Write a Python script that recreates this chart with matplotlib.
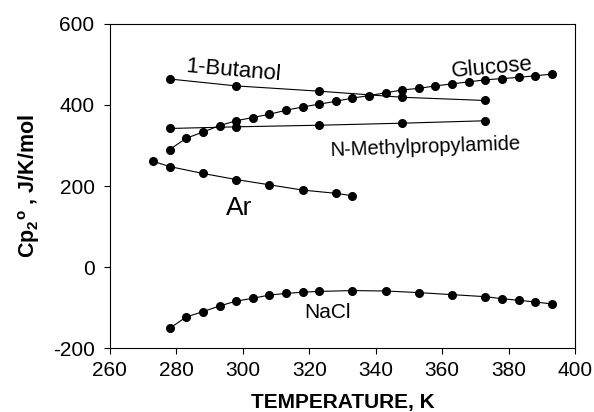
import matplotlib.pyplot as plt

plt.rcParams['font.family'] = 'Liberation Sans'
plt.rcParams['axes.unicode_minus'] = False
plt.rcParams['mathtext.fontset'] = 'custom'
plt.rcParams['mathtext.rm'] = 'Liberation Sans:bold'
plt.rcParams['mathtext.it'] = 'Liberation Sans:bold'
plt.rcParams['mathtext.bf'] = 'Liberation Sans:bold'
plt.rcParams['mathtext.default'] = 'rm'

# partial molar heat capacities, J/K/mol
t_butanol = [278, 298, 323, 348, 373]
cp_butanol = [464, 447, 434, 419, 411]

t_nmpa = [278, 298, 323, 348, 373]
cp_nmpa = [342, 346, 350, 355, 361]

t_glucose = [278, 283, 288, 293, 298, 303, 308, 313, 318, 323, 328, 333,
             338, 343, 348, 353, 358, 363, 368, 373, 378, 383, 388, 393]
cp_glucose = [290, 318, 333, 349, 361, 369, 377, 387, 395, 402, 409, 417,
              423, 430, 437, 441, 447, 452, 457, 462, 465, 468, 472, 476]

t_ar = [273, 278, 288, 298, 308, 318, 328, 333]
cp_ar = [261, 248, 231, 216, 203, 190, 182, 176]

t_nacl = [278, 283, 288, 293, 298, 303, 308, 313, 318, 323, 333, 343,
          353, 363, 373, 378, 383, 388, 393]
cp_nacl = [-151, -123, -110, -96, -84, -77, -69, -65, -62, -60, -58, -59,
           -63, -68, -73, -78, -82, -86, -91]

fig = plt.figure(figsize=(5.94, 4.12), dpi=100)
ax = fig.add_axes([0.185, 0.155, 0.783, 0.787])

style = dict(color='black', marker='o', markersize=5.5, linewidth=0.8)
ax.plot(t_butanol, cp_butanol, **style)
ax.plot(t_nmpa, cp_nmpa, **style)
ax.plot(t_glucose, cp_glucose, **style)
ax.plot(t_ar, cp_ar, **style)
ax.plot(t_nacl, cp_nacl, **style)

ax.text(297, 484, '1-Butanol', fontsize=16, rotation=-5, ha='center', va='center')
ax.text(375, 492, 'Glucose', fontsize=16, rotation=5, ha='center', va='center')
ax.text(355, 296, 'N-Methylpropylamide', fontsize=14.5, rotation=2, ha='center', va='center')
ax.text(299, 146, 'Ar', fontsize=19, ha='center', va='center')
ax.text(325.5, -113, 'NaCl', fontsize=15, ha='center', va='center')

ax.set_xlim(260, 400)
ax.set_ylim(-200, 600)
ax.set_xticks(range(260, 401, 20))
ax.set_yticks(range(-200, 601, 200))
ax.tick_params(direction='out', length=4, width=0.8, labelsize=15)
ax.tick_params(axis='y', pad=7)
ax.tick_params(axis='x', pad=5.5)
for s in ax.spines.values():
    s.set_linewidth(0.8)

ax.set_xlabel('TEMPERATURE, K', fontsize=15, fontweight='bold', labelpad=9)
ax.set_ylabel(r'Cp$_{2}{}^{o}$ , J/K/mol', fontsize=15.5, fontweight='bold', labelpad=8)

fig.savefig('out.png', dpi=100)
